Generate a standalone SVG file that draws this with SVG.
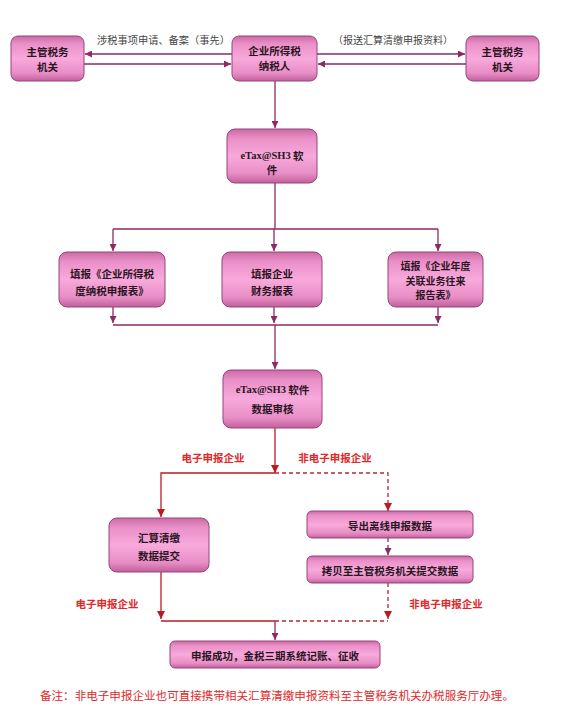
<svg xmlns="http://www.w3.org/2000/svg" width="562" height="717" viewBox="0 0 562 717">
<defs>
<linearGradient id="pink" x1="0" y1="0" x2="0" y2="1">
<stop offset="0" stop-color="#cc6aa6"/>
<stop offset="0.18" stop-color="#ea90c8"/>
<stop offset="0.5" stop-color="#f8a9dc"/>
<stop offset="0.82" stop-color="#e88ec6"/>
<stop offset="1" stop-color="#c2609c"/>
</linearGradient>
<marker id="ap" viewBox="0 0 10 10" refX="10" refY="5" markerWidth="7" markerHeight="7" markerUnits="userSpaceOnUse" orient="auto">
<path d="M0,0 L10,5 L0,10 z" fill="#8e2a62"/>
</marker>
<marker id="ar" viewBox="0 0 10 10" refX="10" refY="5" markerWidth="8" markerHeight="8" markerUnits="userSpaceOnUse" orient="auto">
<path d="M0,0 L10,5 L0,10 z" fill="#b81c22"/>
</marker>
</defs>
<style>
.box{fill:url(#pink);stroke:#96447a;stroke-width:1}
.t{font-family:"Noto Sans CJK SC","Noto Sans",sans-serif;font-size:10.5px;font-weight:bold;fill:#2b1522;text-anchor:middle;dominant-baseline:central}
.lat{font-family:"Liberation Serif",serif;font-weight:bold}
.lbl{font-family:"Noto Sans CJK SC","Noto Sans",sans-serif;font-size:10px;fill:#444;dominant-baseline:central}
.red{font-family:"Noto Sans CJK SC","Noto Sans",sans-serif;font-size:10.5px;font-weight:bold;fill:#e0282a;text-anchor:middle;dominant-baseline:central}
.cp{fill:none;stroke:#8e2a62;stroke-width:1.3}
.cr{fill:none;stroke:#b81c22;stroke-width:1.3}
.dr{fill:none;stroke:#c0262c;stroke-width:1.3;stroke-dasharray:4,3}
.dp{fill:none;stroke:#8e2a62;stroke-width:1.3;stroke-dasharray:4,3}
</style>
<rect width="562" height="717" fill="#ffffff"/>

<g id="connectors">
<path class="cp" d="M232,54 H85" marker-end="url(#ap)"/>
<path class="cp" d="M84,64 H231" marker-end="url(#ap)"/>
<path class="cp" d="M317,54 H465" marker-end="url(#ap)"/>
<path class="cp" d="M466,64 H318" marker-end="url(#ap)"/>
<path class="cp" d="M275,81 V128" marker-end="url(#ap)"/>
<path class="cp" d="M275,183 V229"/>
<path class="cp" d="M113,229 H438"/>
<path class="cp" d="M113,229 V251" marker-end="url(#ap)"/>
<path class="cp" d="M274,229 V251" marker-end="url(#ap)"/>
<path class="cp" d="M438,229 V251" marker-end="url(#ap)"/>
<path class="cp" d="M113,307 V323" marker-end="url(#ap)"/>
<path class="cp" d="M274,307 V323" marker-end="url(#ap)"/>
<path class="cp" d="M438,307 V323" marker-end="url(#ap)"/>
<path class="cp" d="M113,325 H438"/>
<path class="cp" d="M275,325 V369" marker-end="url(#ap)"/>
<path class="cr" d="M275,428 V473" marker-end="url(#ar)"/>
<path class="cr" d="M275,473 H161 V517" marker-end="url(#ar)"/>
<path class="dr" d="M275,473 H388 V511" marker-end="url(#ar)"/>
<path class="dp" d="M388,538 V555" marker-end="url(#ap)"/>
<path class="cr" d="M161,572 V619" marker-end="url(#ar)"/>
<path class="dr" d="M388,583 V619" marker-end="url(#ar)"/>
<path class="cr" d="M161,621 H275"/>
<path class="dr" d="M275,621 H388"/>
<path class="cp" d="M275,621 V640" marker-end="url(#ap)"/>
</g>

<g id="labels">
<text class="lbl" x="97" y="39" textLength="133" lengthAdjust="spacingAndGlyphs">涉税事项申请、备案（事先）</text>
<text class="lbl" x="333" y="39" textLength="120" lengthAdjust="spacingAndGlyphs">（报送汇算清缴申报资料）</text>
<text class="red" x="213" y="457">电子申报企业</text>
<text class="red" x="335" y="457">非电子申报企业</text>
<text class="red" x="107" y="603">电子申报企业</text>
<text class="red" x="446" y="603">非电子申报企业</text>
</g>

<g id="n-tax-left">
<rect class="box" x="11" y="36" width="73" height="45" rx="7"/>
<text class="t" x="47.5" y="51">主管税务</text>
<text class="t" x="47.5" y="66">机关</text>
</g>
<g id="n-taxpayer">
<rect class="box" x="232" y="36" width="85" height="45" rx="7"/>
<text class="t" x="274.5" y="50">企业所得税</text>
<text class="t" x="274.5" y="65">纳税人</text>
</g>
<g id="n-tax-right">
<rect class="box" x="466" y="36" width="73" height="45" rx="7"/>
<text class="t" x="502.5" y="51">主管税务</text>
<text class="t" x="502.5" y="66">机关</text>
</g>
<g id="n-etax">
<rect class="box" x="227" y="129" width="90" height="54" rx="8"/>
<text class="t" x="272" y="155"><tspan class="lat">eTax@SH3</tspan> 软</text>
<text class="t" x="272" y="169">件</text>
</g>
<g id="n-fill1">
<rect class="box" x="59" y="252" width="106" height="55" rx="8"/>
<text class="t" x="112" y="273">填报《企业所得税</text>
<text class="t" x="112" y="290">度纳税申报表》</text>
</g>
<g id="n-fill2">
<rect class="box" x="222" y="252" width="100" height="55" rx="8"/>
<text class="t" x="272" y="273">填报企业</text>
<text class="t" x="272" y="290">财务报表</text>
</g>
<g id="n-fill3">
<rect class="box" x="388" y="252" width="95" height="55" rx="8"/>
<text class="t" x="435.5" y="265.5" style="font-size:10px">填报《企业年度</text>
<text class="t" x="435.5" y="280" style="font-size:10px">关联业务往来</text>
<text class="t" x="435.5" y="294.5" style="font-size:10px">报告表》</text>
</g>
<g id="n-audit">
<rect class="box" x="223" y="370" width="99" height="58" rx="8"/>
<text class="t" x="272.5" y="389"><tspan class="lat">eTax@SH3</tspan> 软件</text>
<text class="t" x="272.5" y="408">数据审核</text>
</g>
<g id="n-submit">
<rect class="box" x="109" y="518" width="100" height="54" rx="8"/>
<text class="t" x="159" y="537">汇算清缴</text>
<text class="t" x="159" y="555">数据提交</text>
</g>
<g id="n-export">
<rect class="box" x="307" y="511" width="166" height="27" rx="5"/>
<text class="t" x="390" y="525">导出离线申报数据</text>
</g>
<g id="n-copy">
<rect class="box" x="307" y="556" width="166" height="27" rx="5"/>
<text class="t" x="390" y="570">拷贝至主管税务机关提交数据</text>
</g>
<g id="n-success">
<rect class="box" x="170" y="641" width="210" height="27" rx="5"/>
<text class="t" x="275" y="655">申报成功，金税三期系统记账、征收</text>
</g>

<text class="red" x="277" y="695" style="font-size:11.5px;font-weight:normal" textLength="474" lengthAdjust="spacingAndGlyphs">备注：非电子申报企业也可直接携带相关汇算清缴申报资料至主管税务机关办税服务厅办理。</text>
</svg>
